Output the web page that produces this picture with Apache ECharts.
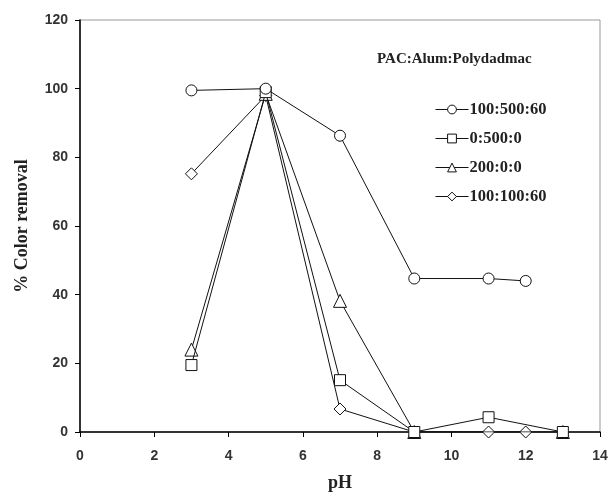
<!DOCTYPE html>
<html><head><meta charset="utf-8">
<script src="https://cdn.jsdelivr.net/npm/echarts@6/dist/echarts.min.js"></script>
<style>html,body{margin:0;padding:0;background:#fff}#c{width:610px;height:493px}</style>
</head><body><div id="c"></div>
<script>
const seriesNames = ['100:500:60', '0:500:0', '200:0:0', '100:100:60'];
const symbols = ['circle', 'rect', 'triangle', 'diamond'];
const s1 = [[3, 99.5], [5, 100], [7, 86.3], [9, 44.7], [11, 44.7], [12, 44]];
const s2 = [[3, 19.5], [5, 99], [7, 15.1], [9, 0], [11, 4.3], [13, 0]];
const s3 = [[3, 24], [5, 98.5], [7, 38.2], [9, 0], [13, 0]];
const s4 = [[3, 75.2], [5, 98], [7, 6.7], [9, 0], [11, 0], [12, 0]];
const allData = [s1, s2, s3, s4];
const xTicks = [0, 2, 4, 6, 8, 10, 12, 14];
const yTicks = [0, 20, 40, 60, 80, 100, 120];

const chart = echarts.init(document.getElementById('c'));
const sans = 'Liberation Sans';
const serif = 'Liberation Serif';
const symSizes = { circle: 11, rect: 11, triangle: 13, diamond: 12 };
chart.setOption({
  animation: false,
  backgroundColor: '#fff',
  title: {
    text: 'PAC:Alum:Polydadmac', left: 372, top: 47,
    textStyle: { fontFamily: serif, fontWeight: 'bold', fontSize: 15, color: '#222' }
  },
  legend: {
    orient: 'vertical', left: 430, top: 96, itemGap: 12,
    itemWidth: 33, itemHeight: 11,
    data: seriesNames,
    itemStyle: { borderWidth: 1 },
    lineStyle: { width: 1 },
    textStyle: { fontFamily: serif, fontWeight: 'bold', fontSize: 16.5, color: '#222', padding: [0, 0, 0, -4] }
  },
  grid: { left: 80, right: 10, top: 20, bottom: 61, outerBoundsMode: 'none', containLabel: false,
          show: true, borderColor: '#999', borderWidth: 1 },
  xAxis: {
    type: 'value', min: xTicks[0], max: xTicks[xTicks.length - 1], interval: 2,
    name: 'pH', nameLocation: 'middle', nameGap: 42,
    nameTextStyle: { fontFamily: serif, fontWeight: 'bold', fontSize: 18, color: '#222' },
    axisLine: { lineStyle: { color: '#000', width: 1.5 } },
    axisTick: { show: true, inside: false, length: 5, lineStyle: { color: '#000' } },
    axisLabel: { fontFamily: sans, fontWeight: 'bold', fontSize: 14, color: '#333', margin: 17 },
    splitLine: { show: false }
  },
  yAxis: {
    type: 'value', min: yTicks[0], max: yTicks[yTicks.length - 1], interval: 20,
    name: '% Color removal', nameLocation: 'middle', nameGap: 49, nameRotate: 90,
    nameTextStyle: { fontFamily: serif, fontWeight: 'bold', fontSize: 18, color: '#222' },
    axisLine: { lineStyle: { color: '#000', width: 1.5 } },
    axisTick: { show: true, inside: false, length: 5, lineStyle: { color: '#000' } },
    axisLabel: { fontFamily: sans, fontWeight: 'bold', fontSize: 14, color: '#333', margin: 12 },
    splitLine: { show: false }
  },
  series: seriesNames.map((n, i) => ({
    name: n, type: 'line', data: allData[i],
    symbol: symbols[i], symbolSize: symSizes[symbols[i]],
    showAllSymbol: true,
    lineStyle: { color: '#111', width: 1 },
    itemStyle: { color: '#fff', borderColor: '#111', borderWidth: 1 },
    z: 10 - i
  }))
});
</script></body></html>
